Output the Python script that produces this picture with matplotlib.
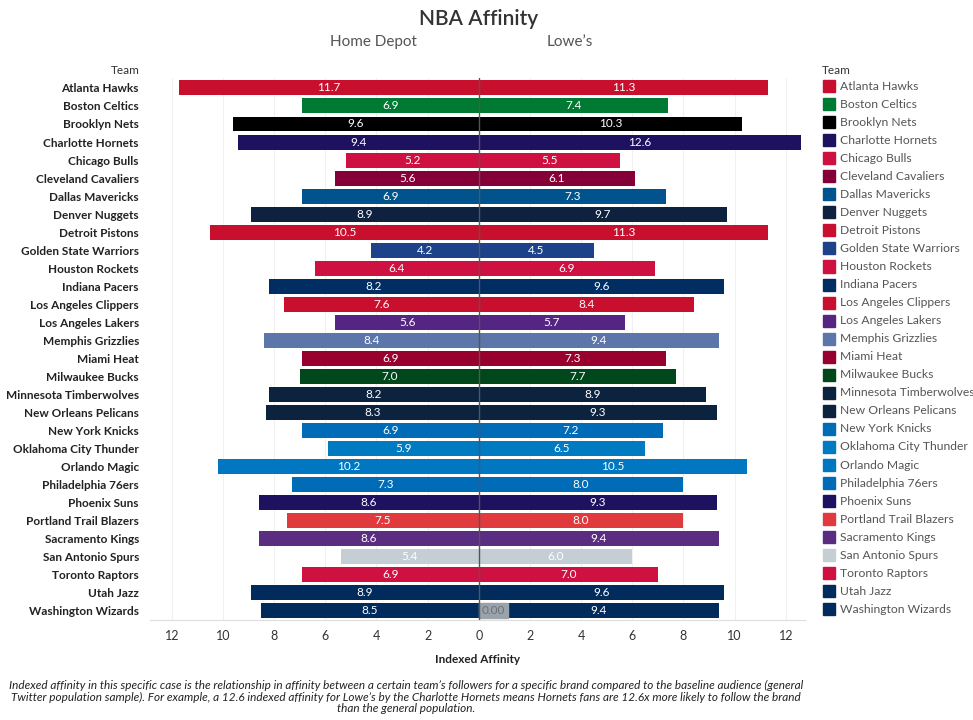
import numpy as np
import matplotlib
matplotlib.use('Agg')
import matplotlib.pyplot as plt
from matplotlib.patches import Rectangle

plt.rcParams['font.family'] = ['Lato', 'DejaVu Sans']

teams = ['Atlanta Hawks', 'Boston Celtics', 'Brooklyn Nets', 'Charlotte Hornets', 'Chicago Bulls',
         'Cleveland Cavaliers', 'Dallas Mavericks', 'Denver Nuggets', 'Detroit Pistons',
         'Golden State Warriors', 'Houston Rockets', 'Indiana Pacers', 'Los Angeles Clippers',
         'Los Angeles Lakers', 'Memphis Grizzlies', 'Miami Heat', 'Milwaukee Bucks',
         'Minnesota Timberwolves', 'New Orleans Pelicans', 'New York Knicks',
         'Oklahoma City Thunder', 'Orlando Magic', 'Philadelphia 76ers', 'Phoenix Suns',
         'Portland Trail Blazers', 'Sacramento Kings', 'San Antonio Spurs', 'Toronto Raptors',
         'Utah Jazz', 'Washington Wizards']
home_depot = [11.7, 6.9, 9.6, 9.4, 5.2, 5.6, 6.9, 8.9, 10.5, 4.2, 6.4, 8.2, 7.6, 5.6, 8.4,
              6.9, 7.0, 8.2, 8.3, 6.9, 5.9, 10.2, 7.3, 8.6, 7.5, 8.6, 5.4, 6.9, 8.9, 8.5]
lowes = [11.3, 7.4, 10.3, 12.6, 5.5, 6.1, 7.3, 9.7, 11.3, 4.5, 6.9, 9.6, 8.4, 5.7, 9.4,
         7.3, 7.7, 8.9, 9.3, 7.2, 6.5, 10.5, 8.0, 9.3, 8.0, 9.4, 6.0, 7.0, 9.6, 9.4]
team_colors = ['#C8102E', '#007A33', '#000000', '#1D1160', '#CE1141', '#860038', '#00538C',
               '#0E2240', '#C8102E', '#1D428A', '#CE1141', '#002D62', '#C8102E', '#552583',
               '#5D76A9', '#98002E', '#00471B', '#0C2340', '#0C2340', '#006BB6', '#007AC1',
               '#0077C0', '#006BB6', '#1D1160', '#E03A3E', '#5A2D81', '#C4CED4', '#CE1141',
               '#002B5C', '#002B5C']
tick_vals = [-12, -10, -8, -6, -4, -2, 0, 2, 4, 6, 8, 10, 12]

fig = plt.figure(figsize=(9.73, 7.2), dpi=100)
ax = fig.add_axes([150 / 973, 1 - 620 / 720, 655 / 973, 542 / 720])

y = np.arange(len(teams))
ax.barh(y, [-v for v in home_depot], height=0.83, color=team_colors, zorder=2)
ax.barh(y, lowes, height=0.83, color=team_colors, zorder=2)

for i in range(len(teams)):
    ax.text(-home_depot[i] / 2, i, f'{home_depot[i]:.1f}', ha='center', va='center',
            color='white', fontsize=8.5, zorder=4)
    ax.text(lowes[i] / 2, i, f'{lowes[i]:.1f}', ha='center', va='center',
            color='white', fontsize=8.5, zorder=4)

# grey highlight box on the last row
ax.add_patch(Rectangle((0, len(teams) - 1 - 0.415), 1.13, 0.83, color='#9aa2aa', zorder=3))
ax.text(0.56, len(teams) - 1, '0.00', ha='center', va='center', color='#6b7278',
        fontsize=8.5, zorder=4)

ax.axvline(0, color='#555555', lw=1, zorder=5)
for t in tick_vals:
    if t != 0:
        ax.axvline(t, color='#f0f0f0', lw=0.8, zorder=0)

ax.set_xlim(-12.85, 12.75)
ax.set_ylim(len(teams) - 0.5, -0.55)
ax.set_xticks(tick_vals)
ax.set_xticklabels([str(abs(t)) for t in tick_vals], fontsize=9, color='#333333')
ax.set_yticks(y)
ax.set_yticklabels(teams, fontsize=8.5, fontweight='bold', color='#222222')
ax.tick_params(axis='both', length=0)
ax.tick_params(axis='y', pad=8)
ax.tick_params(axis='x', pad=7)
for s in ['top', 'right', 'left']:
    ax.spines[s].set_visible(False)
ax.spines['bottom'].set_color('#dddddd')
ax.set_xlabel('Indexed Affinity', fontsize=8.5, fontweight='bold', color='#222222', labelpad=9)

fig.text(140 / 973, 1 - 71 / 720, 'Team', ha='right', va='center', fontsize=8.5, color='#333333')
fig.text(479 / 973, 1 - 19 / 720, 'NBA Affinity', ha='center', va='center', fontsize=15,
         color='#333333', fontweight='semibold')
fig.text(373 / 973, 1 - 42 / 720, 'Home Depot', ha='center', va='center', fontsize=11,
         color='#555555')
fig.text(570 / 973, 1 - 42 / 720, 'Lowe\u2019s', ha='center', va='center', fontsize=11,
         color='#555555')

# legend
fig.text(822 / 973, 1 - 70 / 720, 'Team', ha='left', va='center', fontsize=8.5, color='#333333')
for i, name in enumerate(teams):
    yc = 86 + i * 18.05
    fig.patches.append(Rectangle((823 / 973, 1 - (yc + 6) / 720), 12 / 973, 12 / 720,
                                 color=team_colors[i], transform=fig.transFigure, figure=fig))
    fig.text(840 / 973, 1 - yc / 720, name, ha='left', va='center', fontsize=8.7,
             color='#555555')

note = ("Indexed affinity in this specific case is the relationship in affinity between a certain team\u2019s "
        "followers for a specific brand compared to the baseline audience (general\n"
        "Twitter population sample). For example, a 12.6 indexed affinity for Lowe\u2019s by the Charlotte "
        "Hornets means Hornets fans are 12.6x more likely to follow the brand\nthan the general population.")
fig.text(406 / 973, 1 - 697 / 720, note, ha='center', va='center', fontsize=8.5, style='italic',
         color='#222222', linespacing=1.1)

fig.savefig('out.png', dpi=100)
